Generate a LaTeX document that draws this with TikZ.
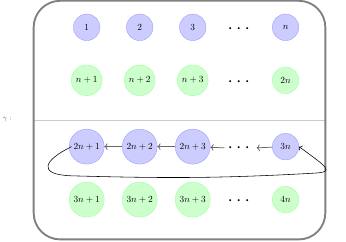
\documentclass[tikz,border=0pt]{standalone}
\usepackage{amsmath}
\usepackage{amsfonts}
\usepackage{tikz}
\usetikzlibrary{arrows.meta}

\begin{document}
\begin{tikzpicture}[
    bluenode/.style={circle, draw=blue!40, fill=blue!20, minimum size=1cm},
    greennode/.style={circle, draw=green!40, fill=green!20, minimum size=1cm},
    dotsnode/.style={font=\huge, yshift=-2pt},
    linkarrow/.style={->, thick, black!60}]
    \useasboundingbox (-3.27,1.03) rectangle (9.78,-8.06);

    \draw[gray!40, thick] (-2,-3.5) -- (9,-3.5);
    \draw[gray, line width=2pt, rounded corners=1cm] (-2,1) rectangle (9,-8);
    \node[black!60, font=\footnotesize] (gamma) at (-3,-3.5) {$\gamma:$};

    \node[bluenode] (a1) at (0,0) {$1$};
    \node[bluenode] (a2) at (2,0) {$2$};
    \node[bluenode] (a3) at (4,0) {$3$};
    \node[dotsnode] (adots) at (5.8,0) {$\cdots$};
    \node[bluenode] (an) at (7.5,0) {$n$};

    \node[greennode] (b1) at (0,-2) {$n+1$};
    \node[greennode] (b2) at (2,-2) {$n+2$};
    \node[greennode] (b3) at (4,-2) {$n+3$};
    \node[dotsnode] (bdots) at (5.8,-2) {$\cdots$};
    \node[greennode] (bn) at (7.5,-2) {$2n$};

    \node[bluenode] (c1) at (0,-4.5) {$2n+1$};
    \node[bluenode] (c2) at (2,-4.5) {$2n+2$};
    \node[bluenode] (c3) at (4,-4.5) {$2n+3$};
    \node[dotsnode] (cdots) at (5.8,-4.5) {$\cdots$};
    \node[bluenode] (cn) at (7.5,-4.5) {$3n$};

    \node[greennode] (d1) at (0,-6.5) {$3n+1$};
    \node[greennode] (d2) at (2,-6.5) {$3n+2$};
    \node[greennode] (d3) at (4,-6.5) {$3n+3$};
    \node[dotsnode] (ddots) at (5.8,-6.5) {$\cdots$};
    \node[greennode] (dn) at (7.5,-6.5) {$4n$};

    \draw[linkarrow] (c2) -- (c1);
    \draw[linkarrow] (c3) -- (c2);
    \draw[linkarrow] (cdots) -- (c3);
    \draw[linkarrow] (cn) -- (cdots);

    \draw[->, semithick] ([xshift=-0.57cm]c1.center) .. controls (-1.6,-5.0) and (-1.9,-5.55) .. (-0.6,-5.6)
        .. controls (3,-5.7) and (5,-5.7) .. (8.6,-5.5)
        .. controls (9.35,-5.45) and (9.1,-5.3) .. (cn.east);
\end{tikzpicture}
\end{document}
